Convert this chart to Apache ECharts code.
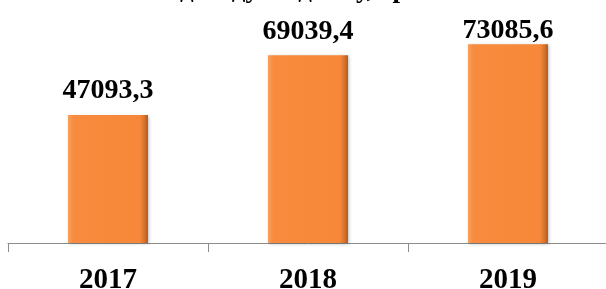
<!DOCTYPE html>
<html>
<head>
<meta charset="utf-8">
<script src="https://cdn.jsdelivr.net/npm/echarts@6/dist/echarts.min.js"></script>
<style>
html,body{margin:0;padding:0;background:#fff;}
#chart{width:606px;height:289px;}
</style>
</head>
<body>
<div id="chart"></div>
<script>
const titleText = "Обсяг доходу бюджету, грн";
const categories = ["2017", "2018", "2019"];
const values = [47093.3, 69039.4, 73085.6];
const valueLabels = ["47093,3", "69039,4", "73085,6"];

const chart = echarts.init(document.getElementById('chart'), null, {renderer: 'canvas'});
const serif = '"Liberation Serif", "Times New Roman", serif';
// the last label sits closer to its bar (pushed down under the title)
const labelDistances = [10, 10, 0];
chart.setOption({
  animation: false,
  title: {
    text: titleText,
    left: 95,
    top: -28,
    textStyle: {fontFamily: serif, fontWeight: 'bold', fontSize: 27, color: '#000'}
  },
  grid: {left: 8, right: -2, top: 25.5, bottom: 46, containLabel: false, outerBoundsMode: 'none'},
  xAxis: {
    type: 'category',
    data: categories,
    boundaryGap: true,
    axisLine: {show: true, lineStyle: {color: '#8c8c8c', width: 1}},
    axisTick: {show: true, length: 9, alignWithLabel: false, lineStyle: {color: '#8c8c8c'}},
    axisLabel: {fontFamily: serif, fontWeight: 'bold', fontSize: 29, color: '#000', margin: 23}
  },
  yAxis: {
    type: 'value', min: 0, max: 80000, show: false,
    splitLine: {show: false}
  },
  series: [{
    type: 'bar',
    data: values.map((v, i) => ({value: v, label: {distance: labelDistances[i]}})),
    barWidth: '40%',
    itemStyle: {
      color: new echarts.graphic.LinearGradient(0, 0, 1, 0, [
        {offset: 0, color: '#f9a05e'},
        {offset: 0.07, color: '#f88b3d'},
        {offset: 0.9, color: '#f7883a'},
        {offset: 0.96, color: '#d4702c'},
        {offset: 1, color: '#b25a20'}
      ]),
      borderWidth: 0,
      shadowColor: 'rgba(0,0,0,0.25)',
      shadowBlur: 3,
      shadowOffsetX: 1,
      shadowOffsetY: 1
    },
    label: {
      show: true,
      position: 'top',
      formatter: p => valueLabels[p.dataIndex],
      fontFamily: serif, fontWeight: 'bold', fontSize: 28, color: '#000'
    }
  }]
});
</script>
</body>
</html>
